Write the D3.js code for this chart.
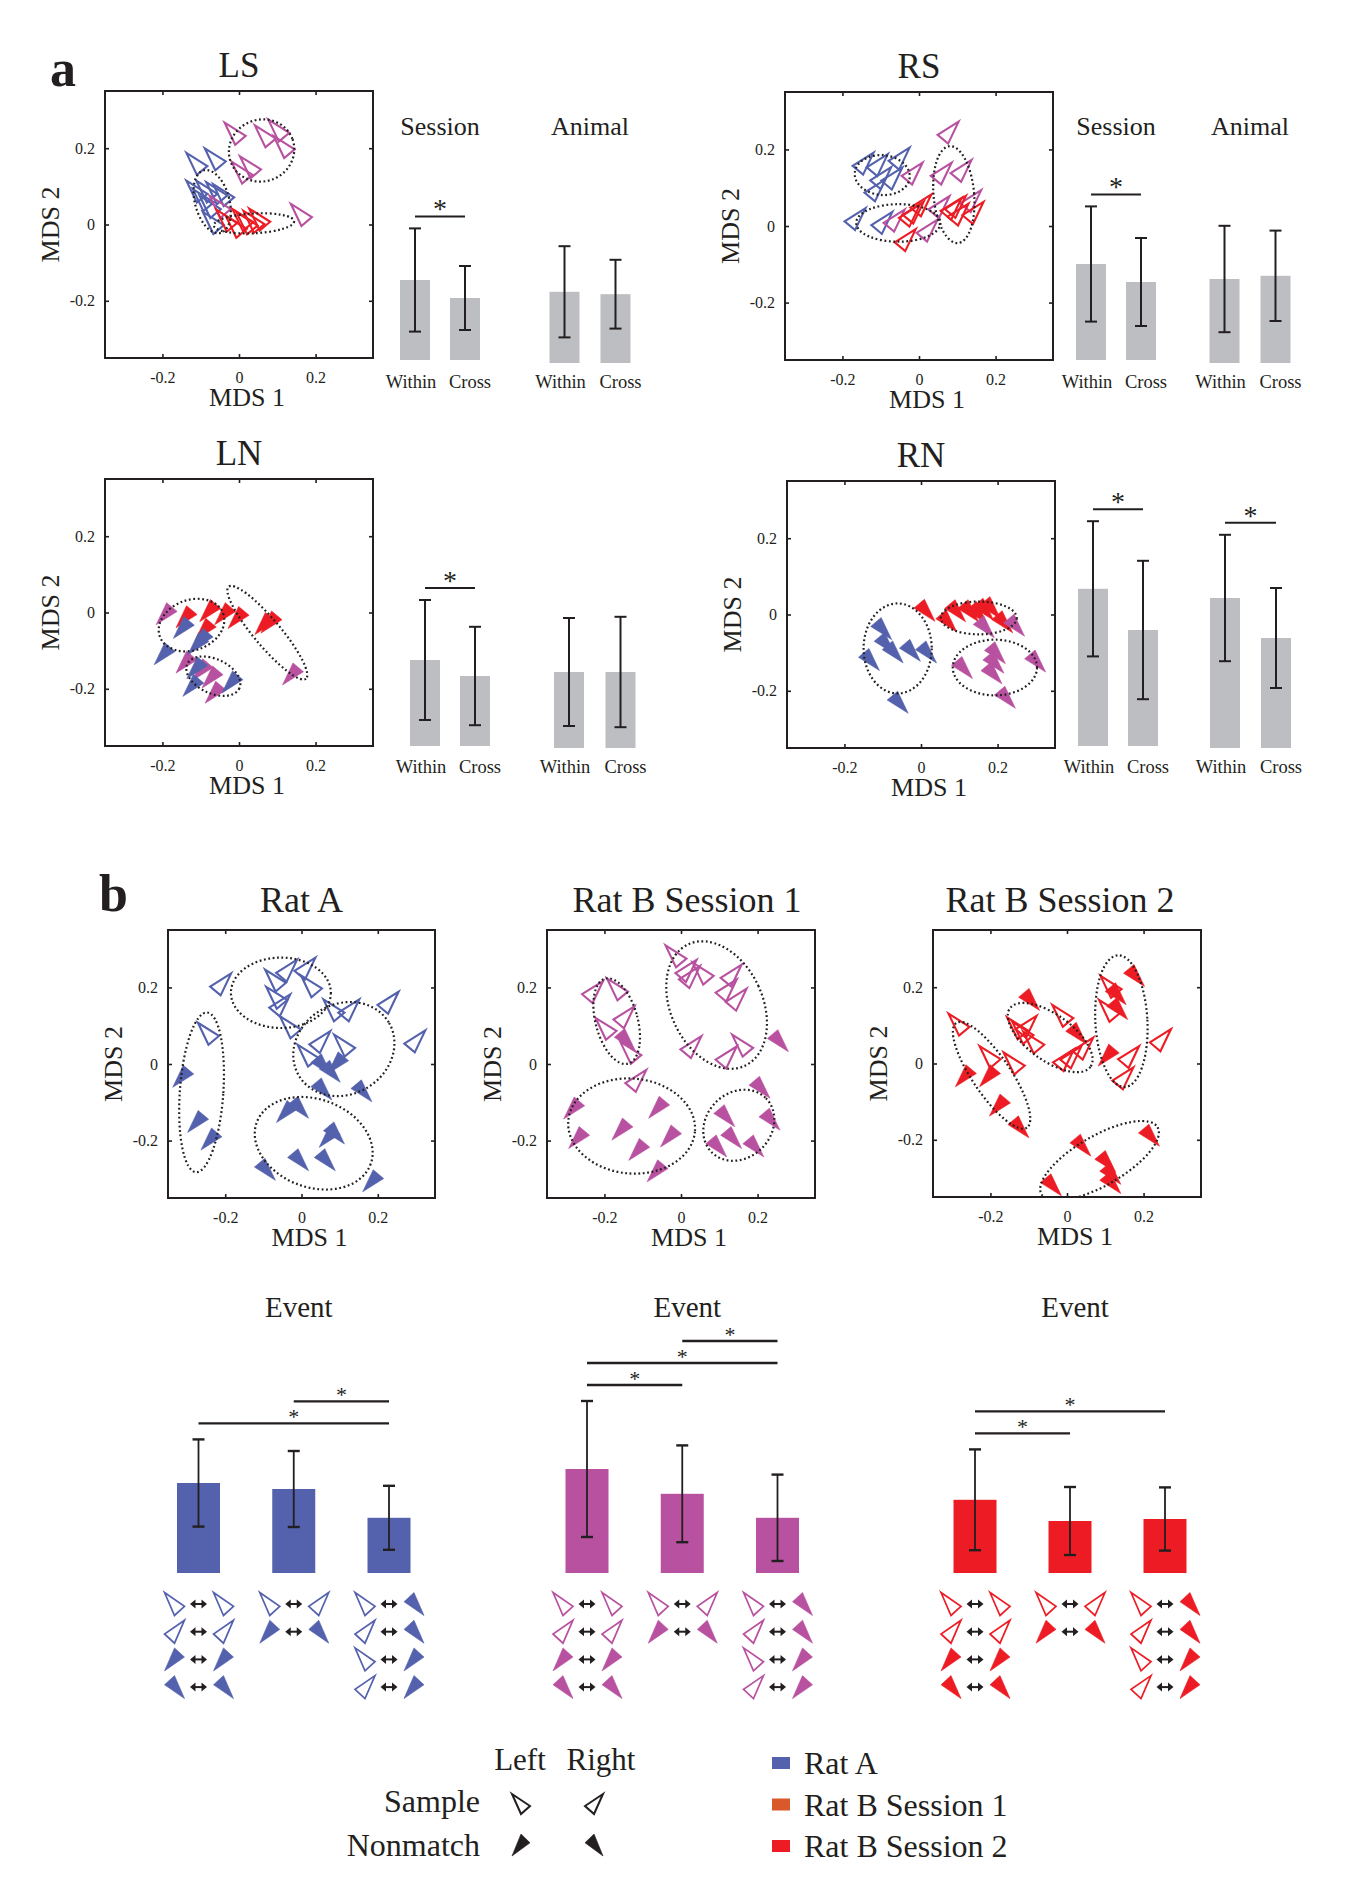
<!DOCTYPE html>
<html lang="en">

<script src="https://d3js.org/d3.v7.min.js"></script>

<head>
    <meta charset="UTF-8">
    <title>MDS event maps</title>
    <style>
        body { margin: 0; background: #fff; }
    </style>
</head>
<body>

<svg width="1356" height="1889"></svg>

<script>
// ---------------- data ----------------
const mdsTicks = [-0.2, 0, 0.2];
const mdsDomain = [-0.35, 0.35];

// panel a : [MDS1, MDS2, animal/session]
const lsPoints = [
    [-0.110, 0.159, "A"], [-0.062, 0.171, "A"], [-0.110, 0.086, "A"], [-0.084, 0.086, "A"],
    [-0.058, 0.082, "A"], [-0.040, 0.077, "A"], [-0.093, 0.064, "A"], [-0.075, 0.046, "A"],
    [-0.067, 0.004, "A"],
    [-0.010, 0.238, "B1"], [0.069, 0.231, "B1"], [0.104, 0.246, "B1"], [0.118, 0.203, "B1"],
    [0.008, 0.136, "B1"], [0.030, 0.150, "B1"], [-0.049, 0.046, "B1"], [0.163, 0.025, "B1"],
    [-0.032, 0.010, "B2"], [-0.007, -0.006, "B2"], [0.021, 0.003, "B2"], [0.039, 0.007, "B2"],
    [0.054, 0.013, "B2"], [0.010, 0.012, "B2"]
];
const rsPoints = [
    [-0.146, 0.163, "A"], [-0.109, 0.159, "A"], [-0.052, 0.176, "A"], [-0.100, 0.125, "A"],
    [-0.071, 0.124, "A"], [-0.115, 0.093, "A"], [-0.167, 0.018, "A"], [-0.097, 0.008, "A"],
    [0.076, 0.244, "B1"], [-0.018, 0.137, "B1"], [0.058, 0.137, "B1"], [0.110, 0.144, "B1"],
    [0.135, 0.065, "B1"], [0.052, 0.049, "B1"], [-0.065, 0.014, "B1"], [0.021, -0.012, "B1"],
    [-0.025, 0.027, "B2"], [0.005, 0.054, "B2"], [-0.015, 0.035, "B2"], [0.084, 0.045, "B2"],
    [0.102, 0.030, "B2"], [0.095, 0.050, "B2"], [0.141, 0.034, "B2"], [-0.036, -0.037, "B2"]
];
const lnPoints = [
    [-0.137, -0.011, "B2"], [-0.075, 0.005, "B2"], [-0.036, -0.003, "B2"], [-0.001, -0.013, "B2"],
    [-0.087, -0.044, "B2"], [0.069, -0.029, "B2"], [0.085, -0.025, "B2"],
    [-0.189, -0.003, "B1"], [-0.137, -0.130, "B1"], [-0.069, -0.169, "B1"], [-0.061, -0.209, "B1"],
    [0.141, -0.161, "B1"], [-0.095, -0.150, "B1"],
    [-0.144, -0.039, "A"], [-0.106, -0.082, "A"], [-0.194, -0.108, "A"], [-0.109, -0.145, "A"],
    [-0.119, -0.191, "A"], [-0.017, -0.182, "A"], [-0.095, -0.070, "A"]
];
const rnPoints = [
    [-0.104, -0.037, "A"], [-0.095, -0.076, "A"], [-0.074, -0.098, "A"], [-0.136, -0.118, "A"],
    [-0.029, -0.094, "A"], [0.013, -0.098, "A"], [-0.061, -0.230, "A"],
    [0.009, 0.011, "B2"], [0.066, -0.017, "B2"], [0.089, 0.010, "B2"], [0.123, 0.010, "B2"],
    [0.162, 0.014, "B2"], [0.180, 0.018, "B2"], [0.212, -0.019, "B2"], [0.145, 0.005, "B2"],
    [0.164, -0.032, "B1"], [0.243, -0.028, "B1"], [0.193, -0.100, "B1"], [0.189, -0.125, "B1"],
    [0.107, -0.139, "B1"], [0.184, -0.153, "B1"], [0.298, -0.122, "B1"], [0.219, -0.217, "B1"]
];

// ellipses: [cx, cy, rx, ry, angle deg]
const lsEllipses = [[0.059, 0.194, 0.086, 0.081, 20], [-0.070, 0.060, 0.045, 0.085, 15], [0.039, 0.003, 0.105, 0.026, 3]];
const rsEllipses = [[-0.096, 0.133, 0.072, 0.052, -5], [-0.054, 0.008, 0.110, 0.049, 0], [0.091, 0.082, 0.053, 0.127, 5]];
const lnEllipses = [[-0.124, -0.033, 0.088, 0.066, 20], [0.074, -0.053, 0.157, 0.035, -50], [-0.067, -0.167, 0.075, 0.045, -25]];
const rnEllipses = [[-0.061, -0.089, 0.089, 0.118, 0], [0.151, -0.009, 0.099, 0.043, 0], [0.193, -0.139, 0.110, 0.073, 0]];

// panel a bars
const pairCats = ["Within", "Cross"];
const lsSessionMean = [0.200, 0.155], lsSessionSd = [0.129, 0.080];
const lsAnimalMean = [0.178, 0.172], lsAnimalSd = [0.114, 0.086];
const rsSessionMean = [0.240, 0.195], rsSessionSd = [0.144, 0.110];
const rsAnimalMean = [0.210, 0.218], rsAnimalSd = [0.133, 0.113];
const lnSessionMean = [0.215, 0.175], lnSessionSd = [0.150, 0.123];
const lnAnimalMean = [0.190, 0.190], lnAnimalSd = [0.135, 0.138];
const rnSessionMean = [0.393, 0.290], rnSessionSd = [0.169, 0.173];
const rnAnimalMean = [0.375, 0.275], rnAnimalSd = [0.158, 0.125];

// panel b : [MDS1, MDS2, event]
const ratAPoints = [
    [-0.212, 0.208, "SR"], [-0.244, 0.079, "SL"], [-0.068, 0.218, "SL"], [-0.039, 0.244, "SR"],
    [0.009, 0.249, "SR"], [0.026, 0.203, "SL"], [-0.065, 0.173, "SL"], [-0.057, 0.153, "SR"],
    [-0.029, 0.096, "SL"], [0.085, 0.140, "SL"], [0.124, 0.140, "SR"], [0.227, 0.160, "SR"],
    [0.297, 0.059, "SR"], [0.048, 0.057, "SR"], [0.113, 0.048, "SL"], [0.017, 0.022, "SL"],
    [-0.310, -0.032, "NL"], [-0.271, -0.150, "NL"], [-0.236, -0.196, "NL"], [0.052, -0.002, "NR"],
    [0.096, 0.003, "NL"], [0.074, -0.019, "NR"], [0.052, -0.065, "NR"], [0.157, -0.070, "NR"],
    [-0.038, -0.124, "NL"], [-0.009, -0.113, "NR"], [0.074, -0.189, "NL"], [0.085, -0.180, "NR"],
    [-0.009, -0.250, "NR"], [0.061, -0.250, "NR"], [-0.096, -0.275, "NR"], [0.188, -0.305, "NL"]
];
const ratB1Points = [
    [-0.231, 0.188, "SR"], [-0.166, 0.195, "SL"], [-0.149, 0.122, "SR"], [-0.196, 0.092, "SL"],
    [-0.131, 0.029, "SL"], [-0.013, 0.281, "SL"], [0.013, 0.243, "SR"], [0.058, 0.236, "SL"],
    [0.022, 0.227, "SR"], [0.131, 0.231, "SR"], [0.118, 0.192, "SR"], [0.144, 0.168, "SR"],
    [0.026, 0.044, "SR"], [0.161, 0.048, "SL"], [0.118, 0.017, "SR"], [-0.118, -0.044, "SR"],
    [-0.147, 0.064, "NR"], [0.253, 0.061, "NR"], [-0.279, -0.115, "NL"], [-0.266, -0.192, "NL"],
    [-0.057, -0.113, "NL"], [-0.153, -0.170, "NL"], [-0.026, -0.188, "NL"], [-0.109, -0.223, "NL"],
    [-0.061, -0.279, "NL"], [0.205, -0.061, "NR"], [0.113, -0.135, "NR"], [0.231, -0.144, "NR"],
    [0.131, -0.192, "NR"], [0.092, -0.214, "NR"], [0.189, -0.214, "NR"]
];
const ratB2Points = [
    [-0.282, 0.102, "SL"], [-0.201, 0.017, "SL"], [-0.138, 0.000, "SL"], [-0.129, 0.092, "SL"],
    [-0.107, 0.096, "SR"], [-0.087, 0.055, "SL"], [-0.011, 0.125, "SL"], [-0.009, 0.009, "SR"],
    [0.010, 0.016, "SR"], [0.041, 0.039, "SR"], [0.115, 0.201, "SL"], [0.111, 0.138, "SL"],
    [0.161, 0.017, "SR"], [0.146, -0.039, "SR"], [0.244, 0.061, "SR"], [-0.115, 0.080, "SL"],
    [-0.099, 0.168, "NR"], [0.024, 0.079, "NR"], [0.175, 0.231, "NR"], [0.127, 0.183, "NR"],
    [0.131, 0.144, "NR"], [0.109, 0.022, "NL"], [-0.264, -0.032, "NL"], [-0.201, -0.032, "NL"],
    [-0.175, -0.109, "NL"], [-0.127, -0.166, "NR"], [0.035, -0.214, "NR"], [0.100, -0.257, "NR"],
    [0.113, -0.288, "NR"], [0.113, -0.312, "NR"], [0.214, -0.188, "NR"], [-0.042, -0.318, "NR"]
];
const ratAEllipses = [[-0.054, 0.186, 0.131, 0.092, 0], [-0.262, -0.074, 0.057, 0.209, -4], [0.111, 0.039, 0.137, 0.118, 30], [0.032, -0.207, 0.159, 0.115, -20]];
const ratB1Ellipses = [[-0.168, 0.112, 0.055, 0.115, 15], [0.093, 0.154, 0.120, 0.175, 25], [-0.129, -0.162, 0.166, 0.124, -5], [0.151, -0.160, 0.100, 0.085, 45]];
const ratB2Ellipses = [[-0.197, -0.031, 0.165, 0.050, -56], [-0.044, 0.068, 0.130, 0.060, -36], [0.142, 0.111, 0.068, 0.173, 3], [0.085, -0.255, 0.175, 0.065, 30]];

// panel b event bars
const eventCats = ["same", "side", "phase"];
const ratAEventMean = [0.225, 0.210, 0.138], ratAEventSd = [0.109, 0.095, 0.080];
const ratB1EventMean = [0.260, 0.198, 0.138], ratB1EventSd = [0.170, 0.121, 0.108];
const ratB2EventMean = [0.183, 0.130, 0.135], ratB2EventSd = [0.126, 0.085, 0.079];
// [bar i, bar j, stacking level]
const ratASig = [[0, 2, 0], [1, 2, 1]];
const ratB1Sig = [[0, 1, 0], [0, 2, 1], [1, 2, 2]];
const ratB2Sig = [[0, 1, 0], [0, 2, 1]];
// event pairs under each bar
const eventPairs = [
    [["SL", "SL"], ["SR", "SR"], ["NL", "NL"], ["NR", "NR"]],
    [["SL", "SR"], ["NL", "NR"]],
    [["SL", "NR"], ["SR", "NR"], ["SL", "NL"], ["SR", "NL"]]
];

const legendNames = ["Rat A", "Rat B Session 1", "Rat B Session 2"];

// ---------------- styles ----------------
const ink = "#231f20";
const serif = '"Liberation Serif", "Times New Roman", serif';
const ratColor = { A: "#5461ad", B1: "#b8519f", B2: "#ed1c24" };
const legendColors = ["#5461ad", "#d9592b", "#ed1c24"];
const barGray = "#bdbec1";
const shapes = {
    SL: [[0, 0], [1, 0.6], [0.5, 1]],
    SR: [[1, 0], [0, 0.6], [0.5, 1]],
    NL: [[0.5, 0], [1, 0.4], [0, 1]],
    NR: [[0.5, 0], [0, 0.4], [1, 1]]
};
const labelShift = [-4, 5];   // Within / Cross label nudges

const svgElement = d3.select("svg").attr("font-family", serif);

function triPath(type, w, h) {
    return "M" + shapes[type].map(p => ((p[0] - 0.5) * w).toFixed(1) + "," + ((p[1] - 0.5) * h).toFixed(1)).join("L") + "Z";
}

function drawMarker(g, type, cx, cy, color, w, h, sw) {
    const filled = type[0] === "N";
    g.append("path")
        .attr("d", triPath(type, w, h))
        .attr("transform", `translate(${cx},${cy})`)
        .attr("fill", filled ? color : "none")
        .attr("stroke", color)
        .attr("stroke-width", filled ? 0.6 : sw)
        .attr("stroke-linejoin", "miter");
}

function addText(g, str, x, y, size, anchor, extra) {
    const t = g.append("text")
        .attr("x", x).attr("y", y)
        .attr("font-size", size)
        .attr("text-anchor", anchor || "middle")
        .attr("fill", ink)
        .text(str);
    if (extra) extra(t);
    return t;
}

let clipCount = 0;
function drawScatter(cfg) {
    const [x0, y0, x1, y1] = cfg.box;
    const x = d3.scaleLinear().domain(mdsDomain).range([x0, x1]);
    const y = d3.scaleLinear().domain(mdsDomain).range([y1, y0]);
    const g = svgElement.append("g");
    const fmt = d => d === 0 ? "0" : String(d);

    const axes = [
        [d3.axisBottom(x), `translate(0,${y1})`, true, 14],
        [d3.axisTop(x), `translate(0,${y0})`, false, 0],
        [d3.axisLeft(y), `translate(${x0},0)`, true, 10],
        [d3.axisRight(y), `translate(${x1},0)`, false, 0]
    ];
    axes.forEach(([ax, tr, lab, pad]) => {
        const a = g.append("g").attr("transform", tr)
            .call(ax.tickValues(mdsTicks).tickSizeInner(-4).tickSizeOuter(0)
                .tickPadding(pad).tickFormat(lab ? fmt : () => ""));
        a.select(".domain").remove();
        a.attr("font-family", serif).attr("font-size", 16);
        a.selectAll("line").attr("stroke", ink).attr("stroke-width", 1.6);
        a.selectAll("text").attr("fill", ink);
    });

    // markers
    cfg.points.forEach(p => {
        const type = cfg.type || p[2];
        const color = cfg.color || ratColor[p[2]];
        drawMarker(g, type, x(p[0]), y(p[1]), color, 21, 22, 2.1);
    });

    // dotted ellipses
    const id = "clip" + (clipCount++);
    svgElement.append("clipPath").attr("id", id)
        .append("rect").attr("x", x0).attr("y", y0).attr("width", x1 - x0).attr("height", y1 - y0);
    g.append("g").attr("clip-path", `url(#${id})`)
        .selectAll("ellipse").data(cfg.ellipses).join("ellipse")
        .attr("cx", 0).attr("cy", 0)
        .attr("rx", d => x(d[2]) - x(0))
        .attr("ry", d => y(0) - y(d[3]))
        .attr("transform", d => `translate(${x(d[0])},${y(d[1])}) rotate(${-d[4]})`)
        .attr("fill", "none")
        .attr("stroke", ink)
        .attr("stroke-width", 2.2)
        .attr("stroke-dasharray", "1.8,2.6");

    g.append("rect")
        .attr("x", x0).attr("y", y0).attr("width", x1 - x0).attr("height", y1 - y0)
        .attr("fill", "none").attr("stroke", ink).attr("stroke-width", 2);

    addText(g, cfg.title, (x0 + x1) / 2 + (cfg.titleDx || 0), y0 - cfg.titleGap, cfg.titleSize);
    addText(g, "MDS 1", (x0 + x1) / 2 + 8, y1 + 48, 26);
    addText(g, "MDS 2", 0, 0, 26, "middle",
        t => t.attr("x", null).attr("y", null)
            .attr("transform", `translate(${x0 - 46},${(y0 + y1) / 2}) rotate(-90)`));
}

function drawPairBars(grp, labelY, heading) {
    const xs = d3.scalePoint().domain(pairCats).range(grp.x);
    const ys = d3.scaleLinear().domain([0, 0.5]).range([grp.base, grp.base - 200]);
    const g = svgElement.append("g");
    g.selectAll("rect").data(pairCats).join("rect")
        .attr("x", d => xs(d) - 15)
        .attr("width", 30)
        .attr("y", (d, i) => ys(grp.mean[i]))
        .attr("height", (d, i) => ys(0) - ys(grp.mean[i]))
        .attr("fill", barGray);
    pairCats.forEach((c, i) => {
        const top = ys(grp.mean[i] + grp.sd[i]), bot = ys(grp.mean[i] - grp.sd[i]);
        g.append("line").attr("x1", xs(c)).attr("x2", xs(c)).attr("y1", top).attr("y2", bot)
            .attr("stroke", ink).attr("stroke-width", 2);
        [top, bot].forEach(v => g.append("line").attr("x1", xs(c) - 6).attr("x2", xs(c) + 6)
            .attr("y1", v).attr("y2", v).attr("stroke", ink).attr("stroke-width", 2));
        addText(g, c, xs(c) + labelShift[i], labelY, 18.5);
    });
    if (grp.sig) {
        const ly = d3.min(pairCats, (c, i) => ys(grp.mean[i] + grp.sd[i])) - 12;
        g.append("line").attr("x1", xs(pairCats[0])).attr("x2", xs(pairCats[1]))
            .attr("y1", ly).attr("y2", ly).attr("stroke", ink).attr("stroke-width", 2);
        addText(g, "*", (xs(pairCats[0]) + xs(pairCats[1])) / 2, ly + 2, 28);
    }
    if (heading) addText(g, grp.name, (grp.x[0] + grp.x[1]) / 2, heading, 26);
}

// ---------------- panel a ----------------
const aPanels = [
    { title: "LS", box: [105, 91, 373, 358], points: lsPoints, ellipses: lsEllipses, type: "SL", labelY: 388, heading: 135,
      bars: [{ name: "Session", mean: lsSessionMean, sd: lsSessionSd, sig: true, x: [415, 465], base: 360 },
             { name: "Animal", mean: lsAnimalMean, sd: lsAnimalSd, sig: false, x: [564.5, 615.5], base: 363 }] },
    { title: "RS", box: [785, 92, 1053, 360], points: rsPoints, ellipses: rsEllipses, type: "SR", labelY: 388, heading: 135,
      bars: [{ name: "Session", mean: rsSessionMean, sd: rsSessionSd, sig: true, x: [1091, 1141], base: 360 },
             { name: "Animal", mean: rsAnimalMean, sd: rsAnimalSd, sig: false, x: [1224.5, 1275.5], base: 363 }] },
    { title: "LN", box: [105, 479, 373, 746], points: lnPoints, ellipses: lnEllipses, type: "NL", labelY: 773, heading: null,
      bars: [{ name: "Session", mean: lnSessionMean, sd: lnSessionSd, sig: true, x: [425, 475], base: 746 },
             { name: "Animal", mean: lnAnimalMean, sd: lnAnimalSd, sig: false, x: [569, 620.5], base: 748 }] },
    { title: "RN", box: [787, 481, 1055, 748], points: rnPoints, ellipses: rnEllipses, type: "NR", labelY: 773, heading: null,
      bars: [{ name: "Session", mean: rnSessionMean, sd: rnSessionSd, sig: true, x: [1093, 1143], base: 746 },
             { name: "Animal", mean: rnAnimalMean, sd: rnAnimalSd, sig: true, x: [1225, 1276], base: 748 }] }
];

aPanels.forEach(p => {
    drawScatter({ title: p.title, box: p.box, points: p.points, ellipses: p.ellipses, type: p.type,
                  titleGap: 14, titleSize: 35 });
    p.bars.forEach(b => drawPairBars(b, p.labelY, p.heading));
});

// ---------------- panel b ----------------
const bGroups = [
    { title: "Rat A", box: [168, 930, 435, 1198], points: ratAPoints, ellipses: ratAEllipses, color: ratColor.A,
      mean: ratAEventMean, sd: ratAEventSd, sig: ratASig, x: [198.5, 389], titleDx: 0 },
    { title: "Rat B Session 1", box: [547, 930, 815, 1198], points: ratB1Points, ellipses: ratB1Ellipses, color: ratColor.B1,
      mean: ratB1EventMean, sd: ratB1EventSd, sig: ratB1Sig, x: [587, 777.5], titleDx: 6 },
    { title: "Rat B Session 2", box: [933, 930, 1201, 1197], points: ratB2Points, ellipses: ratB2Ellipses, color: ratColor.B2,
      mean: ratB2EventMean, sd: ratB2EventSd, sig: ratB2Sig, x: [975, 1165], titleDx: -7 }
];

const eventBase = 1573;
const rowY0 = 1604, rowStep = 27.7;

function drawArrow(g, cx, cy) {
    g.append("line").attr("x1", cx - 4).attr("x2", cx + 4).attr("y1", cy).attr("y2", cy)
        .attr("stroke", ink).attr("stroke-width", 2);
    g.append("path").attr("d", `M${cx - 8.5},${cy}L${cx - 3},${cy - 4.5}L${cx - 3},${cy + 4.5}Z`).attr("fill", ink);
    g.append("path").attr("d", `M${cx + 8.5},${cy}L${cx + 3},${cy - 4.5}L${cx + 3},${cy + 4.5}Z`).attr("fill", ink);
}

bGroups.forEach(gr => {
    drawScatter({ title: gr.title, box: gr.box, points: gr.points, ellipses: gr.ellipses, color: gr.color,
                  titleGap: 18, titleSize: 36, titleDx: gr.titleDx });

    const xs = d3.scalePoint().domain(eventCats).range(gr.x);
    const ys = d3.scaleLinear().domain([0, 0.5]).range([eventBase, eventBase - 200]);
    const g = svgElement.append("g");

    addText(g, "Event", (gr.x[0] + gr.x[1]) / 2 + 5, 1317, 29);

    g.selectAll("rect").data(eventCats).join("rect")
        .attr("x", d => xs(d) - 21.5)
        .attr("width", 43)
        .attr("y", (d, i) => ys(gr.mean[i]))
        .attr("height", (d, i) => ys(0) - ys(gr.mean[i]))
        .attr("fill", gr.color);

    eventCats.forEach((c, i) => {
        const top = ys(gr.mean[i] + gr.sd[i]), bot = ys(gr.mean[i] - gr.sd[i]);
        g.append("line").attr("x1", xs(c)).attr("x2", xs(c)).attr("y1", top).attr("y2", bot)
            .attr("stroke", ink).attr("stroke-width", 1.8);
        [top, bot].forEach(v => g.append("line").attr("x1", xs(c) - 6).attr("x2", xs(c) + 6)
            .attr("y1", v).attr("y2", v).attr("stroke", ink).attr("stroke-width", 2.4));

        eventPairs[i].forEach((pair, r) => {
            const yy = rowY0 + r * rowStep;
            drawMarker(g, pair[0], xs(c) - 24, yy, gr.color, 20, 23, 1.7);
            drawArrow(g, xs(c), yy);
            drawMarker(g, pair[1], xs(c) + 25, yy, gr.color, 20, 23, 1.7);
        });
    });

    const topErr = d3.min(eventCats, (c, i) => ys(gr.mean[i] + gr.sd[i]));
    gr.sig.forEach(([a, b, lvl]) => {
        const ly = topErr - 16 - 22 * lvl;
        g.append("line").attr("x1", xs(eventCats[a])).attr("x2", xs(eventCats[b]))
            .attr("y1", ly).attr("y2", ly).attr("stroke", ink).attr("stroke-width", 2.4);
        addText(g, "*", (xs(eventCats[a]) + xs(eventCats[b])) / 2, ly + 1, 22);
    });
});

// ---------------- panel letters ----------------
addText(svgElement, "a", 50, 86, 52, "start", t => t.attr("font-weight", "bold"));
addText(svgElement, "b", 99, 911, 52, "start", t => t.attr("font-weight", "bold"));

// ---------------- legend ----------------
const leg = svgElement.append("g");
addText(leg, "Left", 520, 1770, 31);
addText(leg, "Right", 601, 1770, 31);
addText(leg, "Sample", 480, 1812, 32, "end");
addText(leg, "Nonmatch", 480, 1856, 32, "end");
drawMarker(leg, "SL", 521, 1804, ink, 18, 20, 2);
drawMarker(leg, "SR", 594, 1804, ink, 18, 20, 2);
drawMarker(leg, "NL", 521, 1845, ink, 18, 22, 2);
drawMarker(leg, "NR", 594, 1845, ink, 18, 22, 2);

legendNames.forEach((n, i) => {
    const cy = 1763 + i * 41.5;
    leg.append("rect").attr("x", 772).attr("y", cy - 6).attr("width", 18).attr("height", 12)
        .attr("fill", legendColors[i]);
    addText(leg, n, 804, cy + 11, 32, "start");
});
</script>
</body>
</html>
